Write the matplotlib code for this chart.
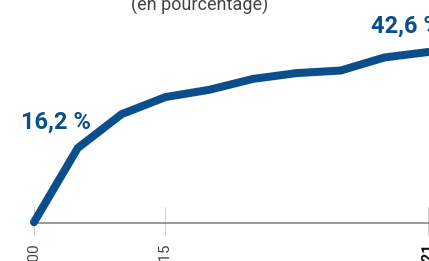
import matplotlib
matplotlib.use("Agg")
import matplotlib.pyplot as plt
import matplotlib.transforms as mtransforms

# ---- data ----
years = ["2000", "2005", "2010", "2015", "2016", "2017", "2018", "2019", "2020", "2021"]
values = [-4.2, 16.2, 25.5, 30.2, 32.2, 35.2, 36.8, 37.5, 41.1, 42.6]
shown_ticks = ["2000", "2015", "2021"]
bold_ticks = ["2021"]
labelled_points = {"2005": "16,2 %", "2021": "42,6 %"}
subtitle = "(en pourcentage)"

# ---- style ----
W, H = 429, 261
DPI = 100
BLUE = "#0a4f8c"
plt.rcParams["font.family"] = ["Roboto", "DejaVu Sans"]

fig = plt.figure(figsize=(W / DPI, H / DPI), dpi=DPI)
ax = fig.add_axes([0, 0, 1, 1])
ax.set_axis_off()

x = list(range(len(years)))
ax.set_xlim(-0.776, 9.018)
ax.set_ylim(-14.88, 56.9)

px = 72.0 / DPI  # points per pixel

def yfrac(py):
    return 1 - py / H

blend = mtransforms.blended_transform_factory(ax.transData, ax.transAxes)

# baseline
ax.plot([0.07, x[-1] + 1], [yfrac(223.3)] * 2, transform=blend,
        color="#7a7a7a", lw=1.5 * px, zorder=1, solid_capstyle="butt")

# ticks + labels
for name in shown_ticks:
    i = years.index(name)
    ax.plot([i, i], [yfrac(207), yfrac(235)], transform=blend,
            color="#cfcfcf", lw=1.0 * px, zorder=0)
    bold = name in bold_ticks
    ax.text(i, yfrac(243), name, transform=blend, rotation=90,
            ha="center", va="top", fontsize=11,
            fontweight="bold" if bold else "normal",
            color="#111111" if bold else "#444444")

# line
ax.plot(x, values, color=BLUE, lw=8 * px, solid_capstyle="round",
        solid_joinstyle="miter", zorder=3)

# value labels
for name, txt in labelled_points.items():
    i = years.index(name)
    ax.annotate(txt, xy=(i, values[i]), xytext=(-57 * px, 19 * px),
                textcoords="offset points", ha="left", va="baseline",
                fontsize=17, fontweight="bold", color=BLUE)

# subtitle
fig.text(200 / W, 1 - 11 / H, subtitle, ha="center", va="baseline",
         fontsize=13, fontweight="normal", color="#444444")

fig.savefig("out.png", dpi=DPI)
